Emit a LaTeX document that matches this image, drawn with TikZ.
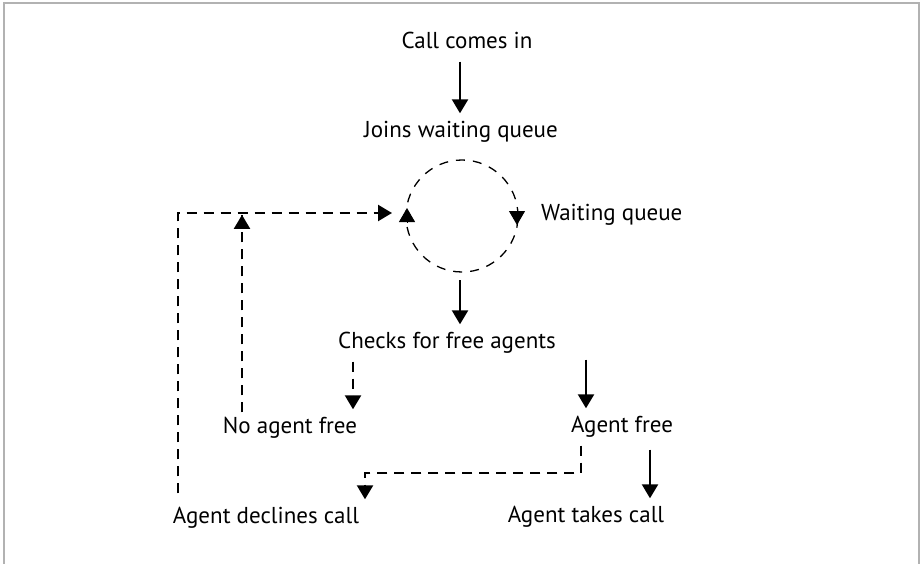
\documentclass[tikz,border=0pt]{standalone}
\usepackage{fontspec}
\setmainfont{PT Sans}
\usetikzlibrary{arrows.meta,calc}
\begin{document}
\begin{tikzpicture}[x=1pt,y=-1pt,
  lbl/.style={inner xsep=0pt,inner ysep=8pt,text height=16pt,text depth=5pt,font=\fontsize{23}{27}\selectfont},
  tip/.style={-{Triangle[width=16pt,length=14pt]}},
  sarr/.style={tip,line width=2.3pt},
  darr/.style={tip,line width=2.3pt,dash pattern=on 10pt off 7pt},
  frame/.style={draw=black!30,line width=2pt}]
\useasboundingbox (0,0) rectangle (923,564);
\draw[frame] (4,564) -- (4,3) -- (919,3) -- (919,564);
% nodes
\node[lbl] (call) at (467,43) {Call comes in};
\node[lbl] (joins) at (461,132) {Joins waiting queue};
\node[circle,draw,line width=1.3pt,dash pattern=on 9pt off 8pt,minimum size=112pt,inner sep=0pt,outer sep=8pt] (queue) at (462,216) {};
\node[lbl,anchor=west] (wq) at (541,215) {Waiting queue};
\node[lbl] (checks) at (447,343) {Checks for free agents};
\node[lbl] (noagent) at (290,428) {No agent free};
\node[lbl] (agentfree) at (622,427) {Agent free};
\node[lbl] (declines) at (266,518) {Agent declines call};
\node[lbl] (takes) at (586,517) {Agent takes call};
% x positions of connectors
\coordinate (x1) at (460,0);
\coordinate (x3) at (353,0);
\coordinate (x4) at (586,0);
\coordinate (x5) at (581,0);
\coordinate (x5b) at (365,0);
\coordinate (x6) at (650,0);
\coordinate (x7) at (242,0);
\coordinate (x8) at (178,0);
\coordinate (qin) at (392,213);
\coordinate (y5) at (0,473);
% circle direction marks
\draw[tip,line width=1pt] ($(queue.center)+(-55,6)$) -- ($(queue.center)+(-55,-8)$);
\draw[tip,line width=1pt] ($(queue.center)+(55,-5)$) -- ($(queue.center)+(55,9)$);
% connectors
\draw[sarr] (call.south -| x1) -- (joins.north -| x1);
\draw[sarr] (queue.south -| x1) -- (checks.north -| x1);
\draw[darr] (checks.south -| x3) -- (noagent.north -| x3);
\draw[sarr] (checks.south -| x4) ++(0,-2) -- (agentfree.north -| x4);
\draw[darr] (agentfree.south -| x5) -- (x5 |- y5) -- (x5b |- y5) -- (declines.north -| x5b);
\draw[sarr] (agentfree.south -| x6) ++(0,4) -- (takes.north -| x6);
\draw[darr] (noagent.north -| x7) ++(0,3) -- (x7 |- qin) ++(0,2) -- ++(0,-0.1);
\draw[darr] (declines.north -| x8) ++(0,-6) -- (x8 |- qin) -- (qin);
\end{tikzpicture}
\end{document}
